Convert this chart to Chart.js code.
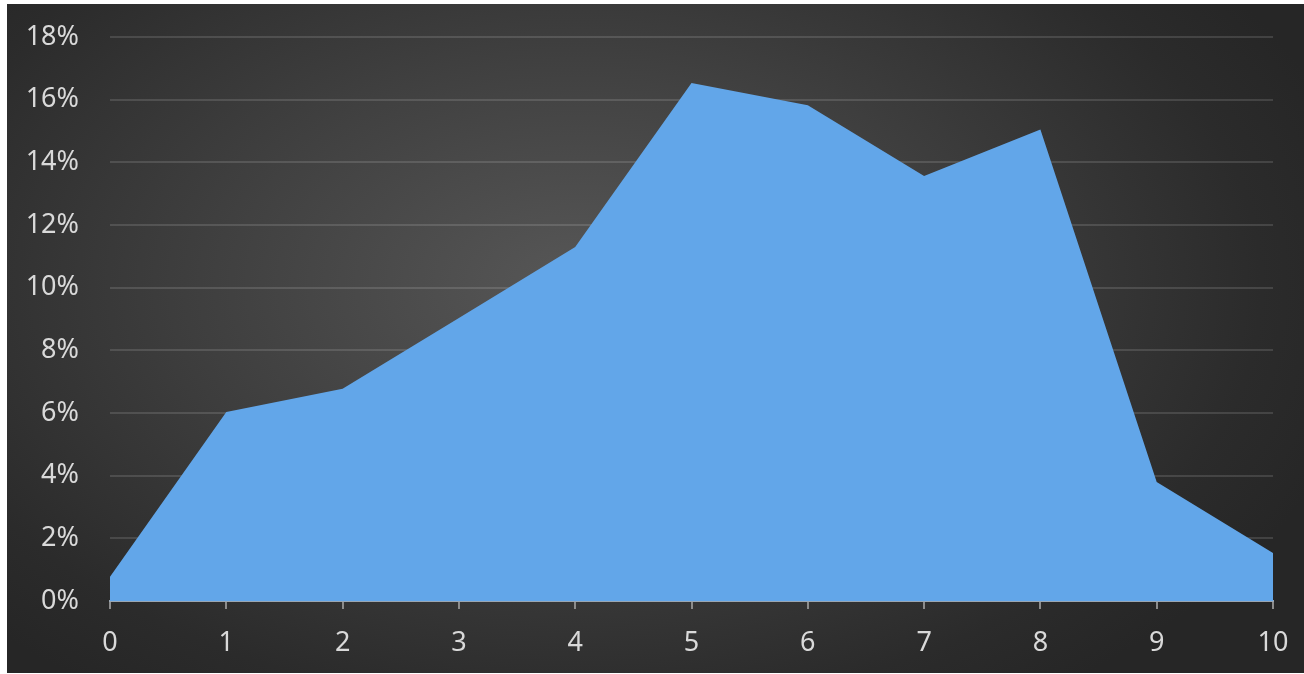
<!DOCTYPE html>
<html>
<head>
<meta charset="utf-8">
<script src="https://cdn.jsdelivr.net/npm/chart.js@4/dist/chart.umd.min.js"></script>
<style>
  html, body { margin: 0; padding: 0; background: #ffffff; }
  #wrap {
    position: absolute; left: 7px; top: 4px; width: 1297px; height: 669px;
    background: radial-gradient(ellipse 62% 75% at 44% 42%, #575757 0%, #404040 45%, #2b2b2b 85%, #262626 100%);
  }
  canvas { display: block; }
</style>
</head>
<body>
<div id="wrap"><canvas id="chart" width="1297" height="669"></canvas></div>
<script>
// x categories and share per category (%)
const categories = ['0', '1', '2', '3', '4', '5', '6', '7', '8', '9', '10'];
const shares = [0.77, 6.03, 6.77, 9.03, 11.3, 16.53, 15.82, 13.56, 15.05, 3.8, 1.53];
const yMax = 18;
const yStep = 2;

const labelColor = '#d9d9d9';
const font = { family: "'Noto Sans', sans-serif", size: 27 };

// soft shadow under the filled area, like the office chart
const areaShadow = {
  id: 'areaShadow',
  beforeDatasetDraw(chart) {
    const ctx = chart.ctx;
    ctx.save();
    ctx.shadowColor = 'rgba(0,0,0,0.45)';
    ctx.shadowBlur = 6;
    ctx.shadowOffsetX = 2;
    ctx.shadowOffsetY = 2;
  },
  afterDatasetDraw(chart) {
    chart.ctx.restore();
  }
};

new Chart(document.getElementById('chart').getContext('2d'), {
  type: 'line',
  data: {
    labels: categories,
    datasets: [{
      data: shares,
      fill: 'origin',
      backgroundColor: '#62a6e9',
      borderWidth: 0,
      borderColor: 'rgba(0,0,0,0)',
      pointRadius: 0,
      tension: 0
    }]
  },
  plugins: [areaShadow],
  options: {
    responsive: false,
    animation: false,
    layout: { padding: { left: 0, right: 31, top: 33, bottom: 0 } },
    plugins: {
      legend: { display: false },
      tooltip: { enabled: false }
    },
    scales: {
      x: {
        offset: false,
        grid: {
          drawOnChartArea: false,
          drawTicks: true,
          tickLength: 8,
          color: '#8c8c8c',
          lineWidth: 2
        },
        border: { display: true, color: '#9aa6b2', width: 2 },
        ticks: { color: labelColor, font, padding: 18, maxRotation: 0 },
        afterFit: (s) => { s.height = 72; s.paddingLeft = 0; s.paddingRight = 0; }
      },
      y: {
        min: 0,
        max: yMax,
        grid: {
          color: 'rgba(255,255,255,0.13)',
          lineWidth: 2,
          drawTicks: false
        },
        border: { display: false },
        ticks: {
          stepSize: yStep,
          color: labelColor,
          font,
          padding: 31,
          callback: (v) => v + '%'
        },
        afterFit: (s) => { s.width = 103; s.paddingTop = 0; s.paddingBottom = 0; }
      }
    }
  }
});
</script>
</body>
</html>
